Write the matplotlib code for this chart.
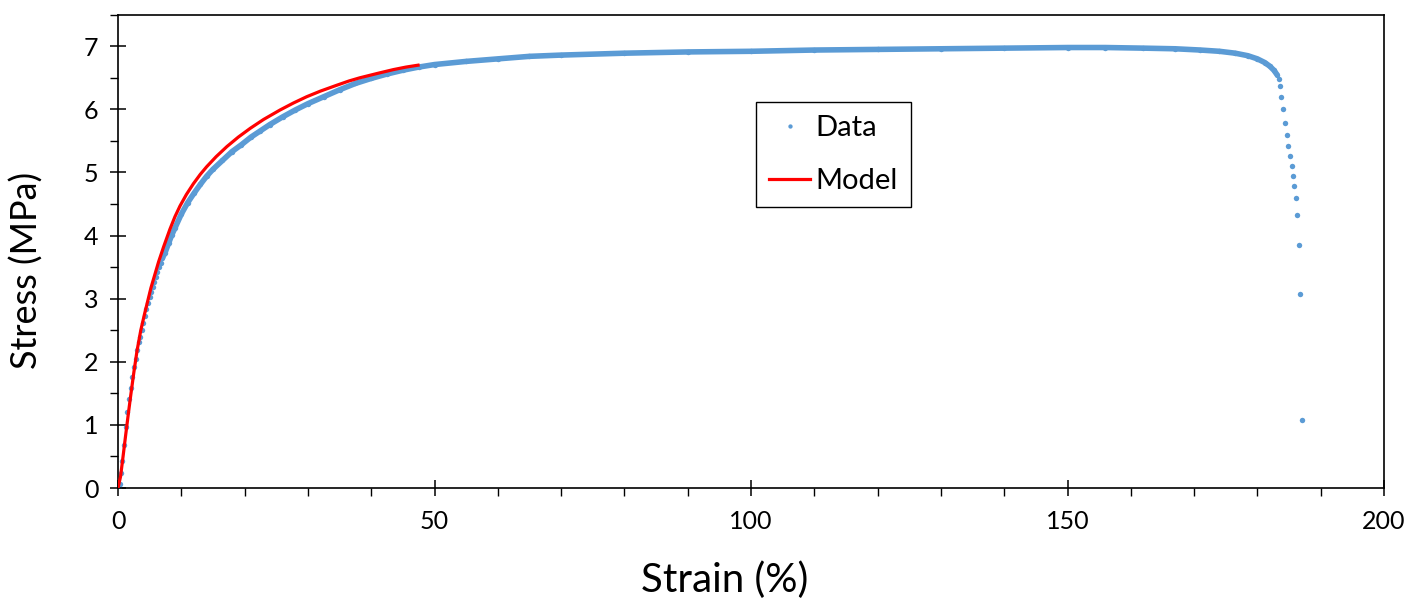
import matplotlib
matplotlib.use("Agg")
import matplotlib.pyplot as plt
import numpy as np
from matplotlib.ticker import MultipleLocator

# ---- data ----
strain_data = [0.0, 0.2, 0.3, 0.47, 0.63, 0.9, 1.2, 1.47, 1.8, 2.0, 2.26, 2.47, 2.8, 3.0,
               3.26, 3.47, 3.74, 4.0, 4.3, 4.5, 4.74, 5.0, 5.26, 5.47, 5.74, 6.0, 6.2,
               6.48, 6.74, 7.0,
               7.4, 8.0, 8.5, 9.0, 10.0, 11.0, 12.0, 13.0, 14.0, 15.0, 16.5, 18.0, 19.5,
               21.0, 22.5, 24.0, 26.0, 28.0, 30.0, 32.5, 35.0, 37.5, 40.0, 42.5, 45.0,
               47.5, 50.0, 55.0, 60.0, 65.0, 70.0, 80.0, 90.0, 100.0, 110.0, 120.0,
               130.0, 140.0, 150.0, 156.0, 162.0, 167.0, 171.0, 174.0, 176.5, 178.5,
               180.0, 181.2, 182.0, 182.6,
               183.1, 183.4, 183.6, 183.8, 184.1, 184.3, 184.6, 184.8, 185.1, 185.4,
               185.6, 185.8, 186.1, 186.3, 186.6, 186.8, 187.1]
stress_data = [0.0, 0.01, 0.07, 0.24, 0.42, 0.68, 0.96, 1.2, 1.41, 1.59, 1.76, 1.92, 2.05, 2.19,
               2.31, 2.40, 2.51, 2.62, 2.73, 2.83, 2.93, 3.02, 3.11, 3.19, 3.27, 3.35, 3.42,
               3.50, 3.57, 3.64,
               3.72, 3.88, 4.01, 4.12, 4.34, 4.52, 4.67, 4.81, 4.94, 5.05, 5.19, 5.33, 5.44,
               5.56, 5.66, 5.76, 5.88, 5.99, 6.09, 6.20, 6.31, 6.41, 6.49, 6.56, 6.62,
               6.67, 6.71, 6.76, 6.80, 6.84, 6.86, 6.89, 6.91, 6.92, 6.94, 6.95,
               6.96, 6.97, 6.98, 6.98, 6.97, 6.96, 6.94, 6.92, 6.89, 6.85,
               6.80, 6.74, 6.68, 6.62,
               6.55, 6.48, 6.37, 6.20, 6.00, 5.78, 5.59, 5.42, 5.26, 5.10,
               4.95, 4.78, 4.59, 4.32, 3.85, 3.07, 1.07]

strain_model = [0.0, 0.4, 0.8, 1.2, 1.6, 2.0, 2.5, 3.0, 3.6, 4.2, 5.2, 6.4, 7.2, 8.2, 9.0,
                9.8, 10.8, 11.9, 13.0, 14.0, 15.5, 17.2, 19.0, 20.9, 23.0, 25.6, 27.7,
                29.8, 32.0, 34.5, 36.5, 38.2, 41.0, 43.5, 45.5, 47.4]
stress_model = [0.0, 0.18, 0.50, 0.83, 1.15, 1.46, 1.83, 2.17, 2.50, 2.76, 3.17, 3.58, 3.82,
                4.10, 4.30, 4.47, 4.65, 4.82, 4.97, 5.09, 5.25, 5.41, 5.56, 5.70, 5.84,
                5.99, 6.10, 6.20, 6.29, 6.38, 6.45, 6.50, 6.57, 6.63, 6.67, 6.70]

x_major = [0, 50, 100, 150, 200]
y_major = [0, 1, 2, 3, 4, 5, 6, 7]

BLUE = "#5B9BD5"
RED = "#FF0000"
FONT = "Lato"

plt.rcParams["font.family"] = [FONT, "DejaVu Sans"]

fig = plt.figure(figsize=(14.26, 6.03), dpi=100)
ax = fig.add_axes([118 / 1426, 1 - 488 / 603, (1384 - 118) / 1426, (488 - 14.7) / 603])

sx = np.array(strain_data)
sy = np.array(stress_data)
dense = (sx >= 7.0) & (sx <= 183.1)

# dense portion of the data appears as a continuous band of dots
ax.plot(sx[dense], sy[dense], color=BLUE, lw=4.0, solid_capstyle="round",
        solid_joinstyle="round", zorder=2)
ax.plot(sx, sy, linestyle="none", marker="o", ms=3.9, mec="none", mfc=BLUE,
        label="Data", zorder=2)
ax.plot(strain_model, stress_model, color=RED, lw=2.3, label="Model", zorder=3,
        solid_joinstyle="round")

ax.set_xlim(0, 200)
ax.set_ylim(0, 7.5)
ax.set_xticks(x_major)
ax.set_yticks(y_major)
ax.xaxis.set_minor_locator(MultipleLocator(10))
ax.yaxis.set_minor_locator(MultipleLocator(0.5))

ax.tick_params(axis="both", which="major", direction="inout", length=12, width=1.1,
               labelsize=18, color="black")
ax.tick_params(axis="both", which="minor", direction="out", length=6, width=1.0,
               color="black")
ax.tick_params(axis="x", which="major", pad=10)
ax.tick_params(axis="y", which="major", pad=8)

for s in ax.spines.values():
    s.set_linewidth(1.2)
    s.set_color("black")

ax.set_xlabel("Strain (%)", fontsize=29)
ax.set_ylabel("Stress (MPa)", fontsize=26)
ax.xaxis.set_label_coords(0.479, -0.155)
ax.yaxis.set_label_coords(-0.059, 0.46)

leg = ax.legend(loc="upper left", bbox_to_anchor=(0.504, 0.816), fontsize=21,
                frameon=True, fancybox=False, edgecolor="black", framealpha=1,
                markerscale=0.8, handlelength=1.4, borderpad=0.45, labelspacing=0.92,
                handletextpad=0.18, borderaxespad=0)
leg.get_frame().set_linewidth(1.0)

fig.savefig("out.png", dpi=100)
